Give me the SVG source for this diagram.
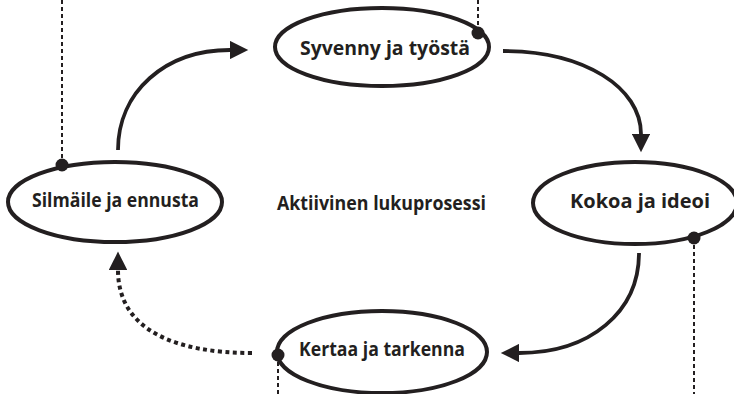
<svg xmlns="http://www.w3.org/2000/svg" width="734" height="394" viewBox="0 0 734 394">
  <defs>
    <style>
      .node ellipse { fill: #fff; stroke: #231f20; stroke-width: 4; }
      .label { font-family: "Open Sans", "DejaVu Sans", sans-serif; font-weight: bold; font-size: 20px; fill: #231f20; text-anchor: middle; }
      .flow { fill: none; stroke: #231f20; stroke-width: 3.8; }
      .dotted { fill: none; stroke: #231f20; stroke-width: 4; stroke-dasharray: 4 3.5; }
      .guide { fill: none; stroke: #231f20; stroke-width: 2; stroke-dasharray: 4 3; }
      .pin { fill: #231f20; }
    </style>
    <marker id="head" viewBox="0 0 10 10" refX="0" refY="5" markerWidth="5.6" markerHeight="4.8" markerUnits="strokeWidth" orient="auto">
      <path d="M0,0 L10,5 L0,10 Z" fill="#231f20"/>
    </marker>
    <marker id="headDotted" viewBox="0 0 10 10" refX="0" refY="5" markerWidth="5.2" markerHeight="4.6" markerUnits="strokeWidth" orient="auto">
      <path d="M0,0 L10,5 L0,10 Z" fill="#231f20"/>
    </marker>
  </defs>

  <rect width="734" height="394" fill="#fff"/>

  <!-- vertical guide lines hanging from the pins -->
  <g id="guides">
    <line class="guide" x1="62" y1="0" x2="62" y2="165"/>
    <line class="guide" x1="478" y1="0" x2="478" y2="33"/>
    <line class="guide" x1="694" y1="238" x2="694" y2="394"/>
    <line class="guide" x1="278" y1="355" x2="278" y2="394"/>
  </g>

  <!-- cycle connectors -->
  <g id="connectors">
    <path class="flow" d="M118,150 C118,92 165,50 230,50" marker-end="url(#head)"/>
    <path class="flow" d="M503,51 C585,51 641,88 641,134" marker-end="url(#head)"/>
    <path class="flow" d="M639,253 C639,312 590,353 519,353" marker-end="url(#head)"/>
    <path class="dotted" d="M252,353 C175,353 118,330 118,270" marker-end="url(#headDotted)"/>
  </g>

  <g id="syvenny" class="node">
    <ellipse cx="382" cy="47" rx="107" ry="39"/>
    <text class="label" x="385" y="55" textLength="170" lengthAdjust="spacingAndGlyphs">Syvenny ja työstä</text>
    <circle class="pin" cx="478" cy="33" r="6.5"/>
  </g>

  <g id="silmaile" class="node">
    <ellipse cx="115" cy="202" rx="107" ry="40"/>
    <text class="label" x="115.5" y="207" textLength="167" lengthAdjust="spacingAndGlyphs">Silmäile ja ennusta</text>
    <circle class="pin" cx="62" cy="165" r="6.5"/>
  </g>

  <g id="kokoa" class="node">
    <ellipse cx="635" cy="203" rx="102" ry="41"/>
    <text class="label" x="640" y="208" textLength="140" lengthAdjust="spacingAndGlyphs">Kokoa ja ideoi</text>
    <circle class="pin" cx="694" cy="238" r="6.5"/>
  </g>

  <g id="kertaa" class="node">
    <ellipse cx="382" cy="352" rx="105" ry="41"/>
    <text class="label" x="382" y="356" textLength="166" lengthAdjust="spacingAndGlyphs">Kertaa ja tarkenna</text>
    <circle class="pin" cx="278" cy="355" r="6.5"/>
  </g>

  <g id="title">
    <text class="label" x="381.5" y="210" textLength="209" lengthAdjust="spacingAndGlyphs">Aktiivinen lukuprosessi</text>
  </g>
</svg>
